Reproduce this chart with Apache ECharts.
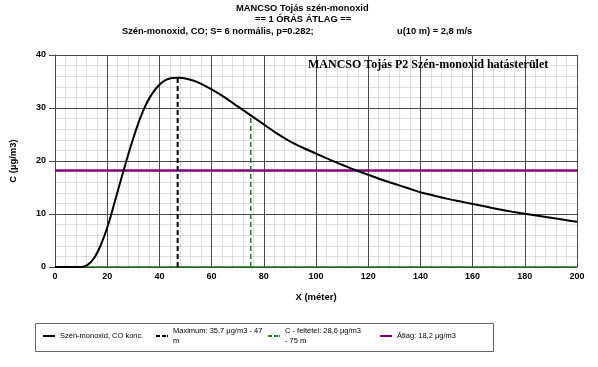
<!DOCTYPE html>
<html><head><meta charset="utf-8">
<script src="https://cdn.jsdelivr.net/npm/echarts@6/dist/echarts.min.js"></script>
<style>html,body{margin:0;padding:0;background:#fff}#c{width:598px;height:367px}</style>
</head><body><div id="c"></div>
<script>
const xs = [0,5,10,12.5,15,17.5,20,22.5,25,27.5,30,32.5,35,37.5,40,42.5,45,47.5,50,55,60,65,70,75,80,85,90,95,100,105,110,115,120,125,130,135,140,145,150,155,160,165,170,175,180,185,190,195,200];
const cs = [0,0,0,0.4,1.7,4.1,7.4,11.6,16.0,20.3,24.3,27.9,30.8,32.9,34.4,35.3,35.65,35.7,35.55,34.8,33.5,32.0,30.3,28.6,26.9,25.2,23.7,22.5,21.4,20.3,19.3,18.3,17.4,16.5,15.7,14.9,14.1,13.5,12.9,12.4,11.9,11.4,10.9,10.45,10.05,9.65,9.3,8.9,8.55];
const maxX = 47, maxC = 35.7;
const condX = 75, condC = 28.6;
const avgC = 18.2;
const names = ['Szén-monoxid, CO konc.', 'Maximum: 35,7 µg/m3 - 47\nm', 'C - feltétel: 28,6 µg/m3\n- 75 m', 'Átlag: 18,2 µg/m3'];

const font = 'Liberation Sans, Arial, sans-serif';
const chart = echarts.init(document.getElementById('c'), null, {renderer:'canvas'});
const legPos = [43, 156, 268, 380];
const solidIcon = 'path://M0,0H12V2H0Z';
const dashIcon = 'path://M0,0H4V2H0Z M6,0H10V2H6Z M11,0H12V2H11Z';
const legIcons = [solidIcon, dashIcon, dashIcon, solidIcon];
const LH = 10;
chart.setOption({
  animation:false,
  title:[
    {text:'MANCSO Tojás szén-monoxid', left:236, top:4, padding:0, textStyle:{fontFamily:font,fontSize:9.3,fontWeight:'bold',color:'#000'}},
    {text:'== 1 ÓRÁS ÁTLAG ==', left:255, top:15, padding:0, textStyle:{fontFamily:font,fontSize:9.3,fontWeight:'bold',color:'#000'}},
    {text:'Szén-monoxid, CO; S= 6 normális, p=0.282;', left:122, top:27, padding:0, textStyle:{fontFamily:'Liberation Sans Narrow, Arial Narrow, sans-serif',fontSize:9.3,fontWeight:'bold',color:'#000'}},
    {text:'u(10 m) = 2,8 m/s', left:397, top:27, padding:0, textStyle:{fontFamily:font,fontSize:9.3,fontWeight:'bold',color:'#000'}},
    {text:'MANCSO Tojás P2 Szén-monoxid hatásterület', left:308, top:59, padding:0, textStyle:{fontFamily:'Liberation Serif, Times New Roman, serif',fontSize:12,fontWeight:'bold',color:'#000'}}
  ],
  grid:{left:53, right:21, top:55, bottom:100},
  xAxis:{type:'value', min:0, max:200, interval:20, name:'X (méter)', nameLocation:'middle', nameGap:25,
    nameTextStyle:{fontFamily:font,fontSize:9.5,fontWeight:'bold',color:'#000'},
    axisLine:{show:true,lineStyle:{color:'#1a6e1a',width:1.5}},
    axisTick:{show:false},
    axisLabel:{fontFamily:font,fontSize:9,fontWeight:'bold',color:'#000',margin:5},
    splitLine:{show:true,lineStyle:{color:'#4a4a4a',width:1,type:'solid'}},
    minorTick:{show:false,splitNumber:5},
    minorSplitLine:{show:true,lineStyle:{color:'rgba(0,0,0,0.13)',width:1,type:'solid'}}},
  yAxis:{type:'value', min:0, max:40, interval:10, name:'C (µg/m3)', nameLocation:'middle', nameGap:37,
    nameTextStyle:{fontFamily:font,fontSize:9.5,fontWeight:'bold',color:'#000'},
    axisLine:{show:true,lineStyle:{color:'#4a4a4a'}},
    axisTick:{show:true,length:6,lineStyle:{color:'#4a4a4a'}},
    axisLabel:{fontFamily:font,fontSize:9,fontWeight:'bold',color:'#000',margin:9},
    splitLine:{show:true,lineStyle:{color:'#4a4a4a',width:1,type:'solid'}},
    minorTick:{show:false,splitNumber:5},
    minorSplitLine:{show:true,lineStyle:{color:'rgba(0,0,0,0.13)',width:1,type:'solid'}}},
  legend: names.map((n,i)=>{
    const two = n.indexOf('\n')>=0;
    return {data:[{name:n, icon:legIcons[i]}], left:legPos[i], top: two ? 337-1.5*LH-1 : 337-0.5*LH-1, padding:0,
      itemWidth:12, itemHeight:2, itemGap:0,
      textStyle:{fontFamily:font,fontSize:7.5,color:'#000',lineHeight:LH,padding: two ? [LH,0,0,0] : 0}};
  }),
  graphic:[{type:'rect', shape:{x:35.5,y:323.5,width:458,height:28}, style:{fill:'none',stroke:'#666',lineWidth:1}}],
  series:[
    {name:names[0], type:'line', symbol:'none', smooth:0.3, data:xs.map((x,i)=>[x,cs[i]]), lineStyle:{color:'#000',width:2}, itemStyle:{color:'#000'}, z:5},
    {name:names[1], type:'line', symbol:'none', data:[[maxX,0],[maxX,maxC]], lineStyle:{color:'#000',width:2,type:[5,3]}, itemStyle:{color:'#000'}, z:4},
    {name:names[2], type:'line', symbol:'none', data:[[condX,0],[condX,condC]], lineStyle:{color:'#1a7a1a',width:1.5,type:[5,3]}, itemStyle:{color:'#1a7a1a'}, z:4},
    {name:names[3], type:'line', symbol:'none', data:[[0,avgC],[200,avgC]], lineStyle:{color:'#800080',width:2.5}, itemStyle:{color:'#800080'}, z:3}
  ]
});
</script></body></html>
